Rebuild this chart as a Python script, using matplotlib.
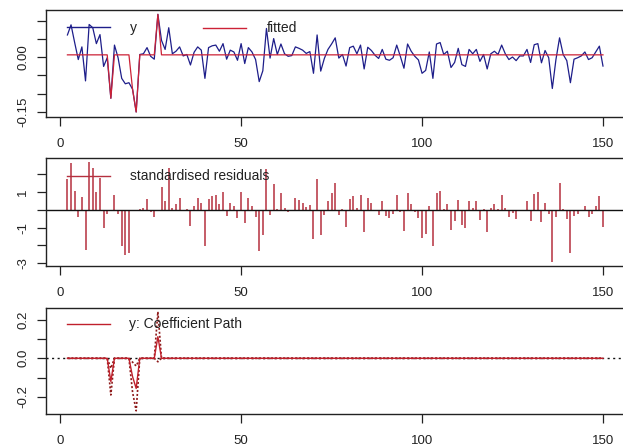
import numpy as np
import matplotlib
matplotlib.use("Agg")
import matplotlib.pyplot as plt

plt.rcParams['font.family'] = ['Liberation Sans', 'DejaVu Sans']

# ---------------- data ----------------
t = list(range(2, 151))

y = [0.062, 0.090, 0.041, -0.006, 0.029, -0.065, 0.091, 0.082, 0.038, 0.063,
     -0.025, -0.001, -0.113, 0.034, -0.001, -0.058, -0.073, -0.070, -0.088, -0.151,
     0.008, 0.010, 0.027, 0.003, -0.005, 0.119, 0.047, 0.022, 0.082, 0.010,
     0.017, 0.029, 0.004, 0.008, -0.021, 0.014, 0.029, 0.020, -0.058, 0.027,
     0.032, 0.034, 0.017, 0.038, -0.005, 0.020, 0.015, -0.008, 0.038, -0.017,
     0.027, 0.015, -0.006, -0.067, -0.037, 0.080, -0.002, 0.052, 0.008, 0.037,
     0.010, 0.003, 0.005, 0.029, 0.025, 0.020, 0.011, 0.016, -0.044, 0.062,
     -0.038, -0.003, 0.022, 0.037, 0.054, -0.002, 0.008, -0.024, 0.027, 0.031,
     0.010, 0.034, -0.032, 0.028, 0.019, 0.006, -0.003, 0.022, -0.005, -0.008,
     -0.001, 0.034, 0.003, -0.030, 0.037, 0.017, 0.003, -0.007, -0.044, -0.036,
     0.015, -0.058, 0.037, 0.041, 0.008, 0.017, -0.028, -0.014, 0.025, -0.020,
     -0.025, 0.022, 0.010, 0.022, -0.011, 0.008, -0.032, 0.010, 0.017, 0.008,
     0.034, 0.010, -0.006, 0.001, -0.009, 0.004, 0.004, 0.022, -0.014, 0.035,
     0.038, -0.015, 0.019, -0.001, -0.086, -0.006, 0.054, 0.008, -0.009, -0.070,
     -0.005, -0.001, 0.004, 0.015, -0.006, -0.001, 0.015, 0.031, -0.024]

fitted = ([0.007] * 12 + [-0.113] + [0.007] * 5 + [-0.088, -0.151]
          + [0.007] * 5 + [0.119] + [0.007] * 123)

resid = [1.74, 2.62, 1.07, -0.43, 0.71, -2.28, 2.68, 2.38, 0.99, 1.78,
         -1.03, -0.24, 0.0, 0.84, -0.24, -2.06, -2.53, -2.43, 0.0, 0.0,
         0.02, 0.09, 0.62, -0.13, -0.39, 0.0, 1.27, 0.47, 2.38, 0.09,
         0.32, 0.69, -0.09, 0.03, -0.90, 0.22, 0.69, 0.41, -2.06, 0.62,
         0.80, 0.84, 0.32, 0.99, -0.37, 0.41, 0.24, -0.47, 0.99, -0.75,
         0.65, 0.24, -0.43, -2.34, -1.40, 2.30, -0.28, 1.44, 0.02, 0.94,
         0.09, -0.13, -0.06, 0.69, 0.56, 0.41, 0.13, 0.28, -1.63, 1.74,
         -1.44, -0.32, 0.47, 0.94, 1.50, -0.28, 0.03, -0.99, 0.62, 0.75,
         0.09, 0.84, -1.25, 0.66, 0.37, -0.03, -0.32, 0.47, -0.37, -0.47,
         -0.24, 0.84, -0.13, -1.18, 0.94, 0.32, -0.13, -0.45, -1.61, -1.37,
         0.24, -2.06, 0.94, 1.07, 0.03, 0.32, -1.12, -0.66, 0.56, -0.84,
         -1.03, 0.47, 0.09, 0.47, -0.58, 0.03, -1.25, 0.09, 0.32, 0.03,
         0.84, 0.09, -0.43, -0.19, -0.51, -0.09, -0.09, 0.47, -0.66, 0.88,
         0.99, -0.69, 0.37, -0.24, -2.94, -0.43, 1.50, 0.03, -0.52, -2.43,
         -0.37, -0.24, -0.09, 0.24, -0.43, -0.24, 0.24, 0.75, -0.97]

coef_path = ([0.0] * 12 + [-0.120] + [0.0] * 5 + [-0.095, -0.156]
             + [0.0] * 5 + [0.112] + [0.0] * 123)
coef_upper = ([0.0] * 12 + [-0.052] + [0.0] * 5 + [-0.020, -0.040]
              + [0.0] * 5 + [0.241] + [0.0] * 123)
coef_lower = ([0.0] * 12 + [-0.190] + [0.0] * 5 + [-0.175, -0.272]
              + [0.0] * 5 + [-0.018] + [0.0] * 123)

x_ticks = [0, 50, 100, 150]
top_yticks = [-0.15, -0.10, -0.05, 0.00, 0.05, 0.10]
top_ylabels = ['-0.15', '', '', '0.00', '', '']
mid_yticks = [-3, -2, -1, 0, 1, 2]
mid_ylabels = ['-3', '', '-1', '', '1', '']
bot_yticks = [-0.2, -0.1, 0.0, 0.1, 0.2]
bot_ylabels = ['-0.2', '', '0.0', '', '0.2']

# ---------------- style ----------------
BLUE = '#1e1e8a'
RED = '#cc2236'
BARRED = '#b5303f'
PATHRED = '#c0202c'
BANDRED = '#8e1a1a'

W, H = 623, 447
fig = plt.figure(figsize=(W / 100, H / 100), dpi=100)

def px_axes(top, bottom, left=46.0, right=624.4):
    return fig.add_axes([left / W, (H - bottom) / H, (right - left) / W, (bottom - top) / H])

ax1 = px_axes(10.0, 116.7)
ax2 = px_axes(158.3, 265.7)
ax3 = px_axes(307.7, 414.3)

for ax in (ax1, ax2, ax3):
    ax.set_xlim(-3.92, 155.92)
    ax.set_xticks(x_ticks)
    ax.set_xticklabels([str(v) for v in x_ticks])
    for s in ax.spines.values():
        s.set_linewidth(1.0)
        s.set_color('#222222')
    ax.tick_params(axis='both', direction='out', length=6.5, width=0.9,
                   colors='#222222', labelsize=9.5)
    ax.tick_params(axis='x', pad=8.5)
    ax.tick_params(axis='y', pad=5.5, labelrotation=90)
    for lab in ax.get_yticklabels():
        lab.set_va('center')

# top panel
ax1.plot(t, y, color=BLUE, lw=0.9)
ax1.plot(t, fitted, color=RED, lw=0.9)
ax1.set_ylim(-0.164, 0.131)
ax1.set_yticks(top_yticks)
ax1.set_yticklabels(top_ylabels, va='center')
ax1.plot([0.0363, 0.1107], [0.841, 0.841], transform=ax1.transAxes, color=BLUE, lw=1.0)
ax1.text(0.1452, 0.835, 'y', transform=ax1.transAxes, fontsize=10, va='center', ha='left', color='#222222')
ax1.plot([0.2714, 0.3458], [0.832, 0.832], transform=ax1.transAxes, color=RED, lw=1.0)
ax1.text(0.381, 0.835, 'fitted', transform=ax1.transAxes, fontsize=10, va='center', ha='left', color='#222222')

# middle panel
ax2.vlines(t, 0, resid, color=BARRED, lw=1.1)
ax2.axhline(0, color='#111111', lw=1.0)
ax2.set_ylim(-3.15, 2.9)
ax2.set_yticks(mid_yticks)
ax2.set_yticklabels(mid_ylabels, va='center')
ax2.plot([0.0363, 0.1107], [0.838, 0.838], transform=ax2.transAxes, color=BARRED, lw=1.0)
ax2.text(0.1452, 0.835, 'standardised residuals', transform=ax2.transAxes, fontsize=10,
         va='center', ha='left', color='#222222')

# bottom panel
ax3.axhline(0, color='#111111', lw=1.0, ls=(0, (1.5, 2.5)))
ax3.plot(t, coef_upper, color=BANDRED, lw=1.2, ls=(0, (1.2, 1.2)))
ax3.plot(t, coef_lower, color=BANDRED, lw=1.2, ls=(0, (1.2, 1.2)))
ax3.plot(t, coef_path, color=PATHRED, lw=1.0)
ax3.set_ylim(-0.29, 0.262)
ax3.set_yticks(bot_yticks)
ax3.set_yticklabels(bot_ylabels, va='center')
ax3.plot([0.0363, 0.1107], [0.847, 0.847], transform=ax3.transAxes, color=PATHRED, lw=1.0)
ax3.text(0.1441, 0.845, 'y: Coefficient Path', transform=ax3.transAxes, fontsize=10,
         va='center', ha='left', color='#222222')

fig.savefig('out.png', dpi=100)
